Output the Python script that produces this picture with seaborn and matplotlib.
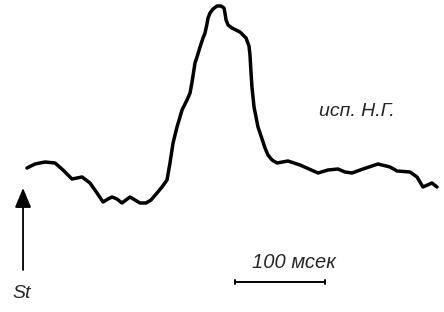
import matplotlib
matplotlib.use("Agg")
import matplotlib.pyplot as plt
import seaborn as sns
import pandas as pd

# evoked response, time after stimulus (ms) and amplitude (arbitrary units)
time_ms = [4.4, 13.3, 24.4, 35.6, 44.4, 54.4, 65.6, 74.4, 82.2, 88.9,
           94.4, 98.9, 104.4, 110.0, 114.4, 118.9, 124.4, 130.0, 136.7, 142.2,
           148.9, 154.4, 160.0, 163.3, 166.7, 171.1, 174.4, 176.7, 182.2, 185.6,
           187.8, 191.1, 193.3, 196.7, 200.0, 202.2, 204.4, 205.6, 207.8, 211.1,
           215.6, 220.0, 223.3, 224.4, 225.6, 227.8, 232.2, 241.1, 247.8, 251.1,
           252.2, 253.3, 254.4, 256.7, 261.1, 265.6, 268.9, 272.2, 276.7, 282.2,
           294.4, 307.8, 327.8, 338.9, 350.0, 357.8, 365.6, 377.8, 394.4, 407.8,
           415.6, 430.0, 437.8, 444.4, 454.4, 460.0]
amplitude = [0.2, 0.6, 0.8, 0.7, 0.0, -0.9, -0.7, -1.3, -2.3, -3.2,
             -2.9, -2.7, -2.9, -3.3, -3.0, -2.7, -3.0, -3.3, -3.3, -3.0,
             -2.3, -1.7, -1.0, 0.7, 2.7, 4.3, 5.3, 6.0, 7.0, 7.7,
             8.8, 10.7, 11.3, 12.3, 13.2, 13.7, 14.6, 15.2, 15.7, 16.1,
             16.4, 16.4, 16.2, 15.7, 15.0, 14.5, 14.2, 13.8, 13.2, 12.4,
             11.5, 9.8, 8.3, 6.3, 4.3, 3.1, 2.2, 1.5, 1.0, 0.7,
             0.9, 0.5, -0.3, 0.0, 0.1, -0.2, -0.3, 0.1, 0.6, 0.3,
             -0.1, -0.2, -0.7, -1.7, -1.3, -1.7]

subject_label = "исп. Н.Г."
scale_ms = 100
scale_label = "100 мсек"
stim_label = "St"

df = pd.DataFrame({"t": time_ms, "amp": amplitude})

sns.set_style("white")
plt.rcParams["font.family"] = ["Liberation Sans", "DejaVu Sans"]

fig = plt.figure(figsize=(4.44, 3.12), dpi=100)
ax = fig.add_axes([0, 0, 1, 1])
sns.lineplot(data=df, x="t", y="amp", sort=False, color="black",
             linewidth=2.5, ax=ax)
for ln in ax.lines:
    ln.set_solid_joinstyle("round")
    ln.set_solid_capstyle("round")

# stimulus arrow
ax.annotate("", xy=(0, -1.8), xytext=(0, -10.0),
            arrowprops=dict(arrowstyle="-|>,head_length=1.2,head_width=0.5",
                            color="black", lw=1.3, shrinkA=0, shrinkB=0))
ax.text(-1, -12.3, stim_label, fontsize=14, style="italic",
        ha="center", va="center")

# time scale bar
x0, x1, yb = 235.6, 235.6 + scale_ms, -11.2
ax.plot([x0, x1], [yb, yb], color="black", lw=1.4)
ax.plot([x0, x0], [yb - 0.2, yb + 0.2], color="black", lw=1.4)
ax.plot([x1, x1], [yb - 0.2, yb + 0.2], color="black", lw=1.4)
ax.text(301, -9.3, scale_label, fontsize=14.5, style="italic",
        ha="center", va="center")

ax.text(371, 5.8, subject_label, fontsize=14, style="italic",
        ha="center", va="center")

ax.set_xlim(-25.6, 467.8)
ax.set_ylim(-14.2, 17.0)
ax.set_axis_off()

fig.savefig("out.png", dpi=100, facecolor="white")
